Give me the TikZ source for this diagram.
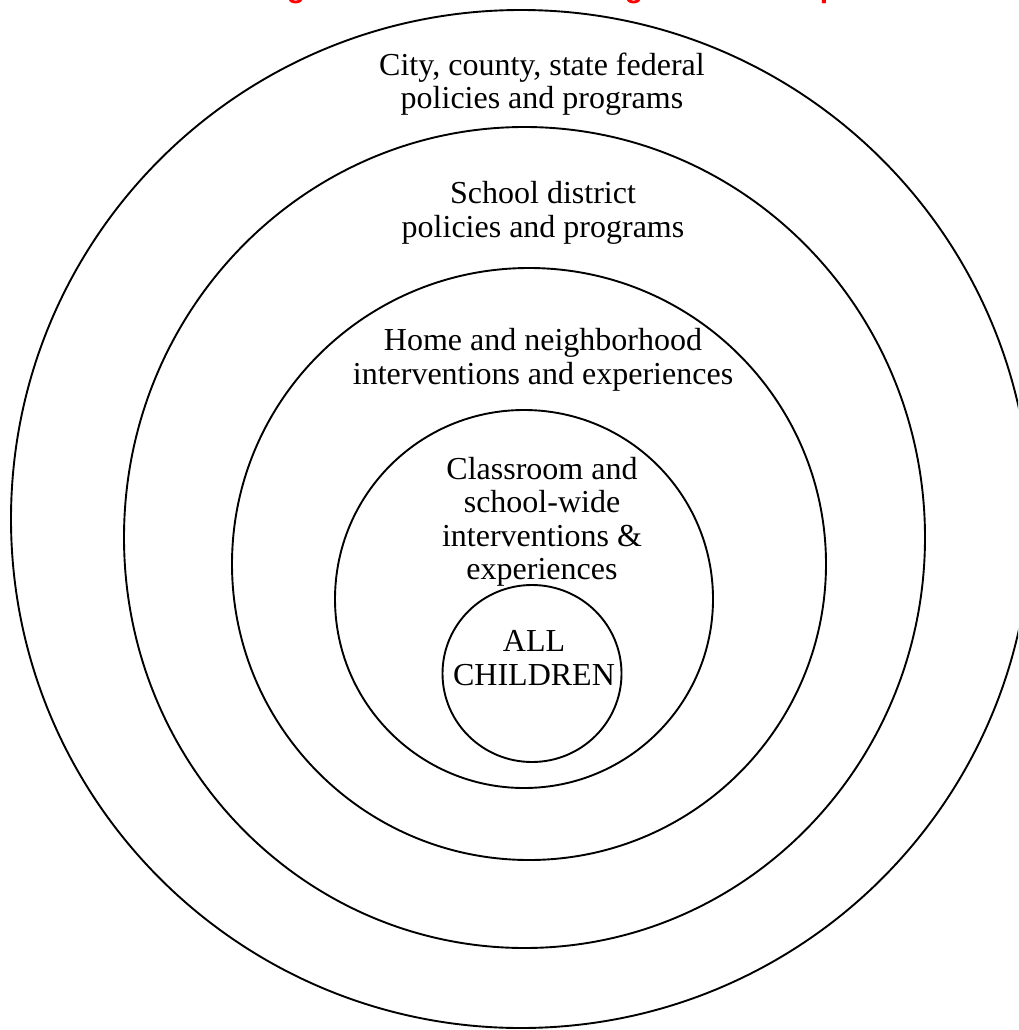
\documentclass[tikz,border=0pt]{standalone}
\usepackage{fontspec}
\setmainfont{Liberation Serif}
\newfontfamily\titlefont{Liberation Sans}
\begin{document}
\begin{tikzpicture}[x=1pt,y=-1pt,
  ring/.style={draw=black,line width=1.9pt},
  lbl/.style={align=center,inner sep=0pt,font=\fontsize{32}{33.5}\selectfont},
  ttl/.style={anchor=base,inner sep=0pt,text=red,font=\titlefont\bfseries\fontsize{30}{30}\selectfont}]
\useasboundingbox (0,0) rectangle (1018,1030);
\clip (0,0) rectangle (1018,1030);
% heading, lying above the top edge
\node[ttl] (t1) at (296,-2.5) {g};
\node[ttl] (t2) at (634,-2.5) {g};
\node[ttl] (t3) at (829,-2.5) {p};
% nested rings
\draw[ring] (521,519) ellipse [x radius=510, y radius=509];
\draw[ring] (524.5,537.5) ellipse [x radius=400.5, y radius=410.5];
\draw[ring] (529,564) ellipse [x radius=297, y radius=296];
\draw[ring] (524,599) circle [radius=189];
\draw[ring] (532,673.5) ellipse [x radius=89.5, y radius=88.5];
% ring labels
\node[lbl] (l1) at (542,84) {City, county, state federal\\policies and programs};
\node[lbl] (l2) at (543,213) {School district\\policies and programs};
\node[lbl] (l3) at (543,360) {Home and neighborhood\\interventions and experiences};
\node[lbl] (l4) at (542,522) {Classroom and\\school-wide\\interventions \&\\experiences};
\node[lbl] (l5) at (534,658) {ALL\\CHILDREN};
\end{tikzpicture}
\end{document}
